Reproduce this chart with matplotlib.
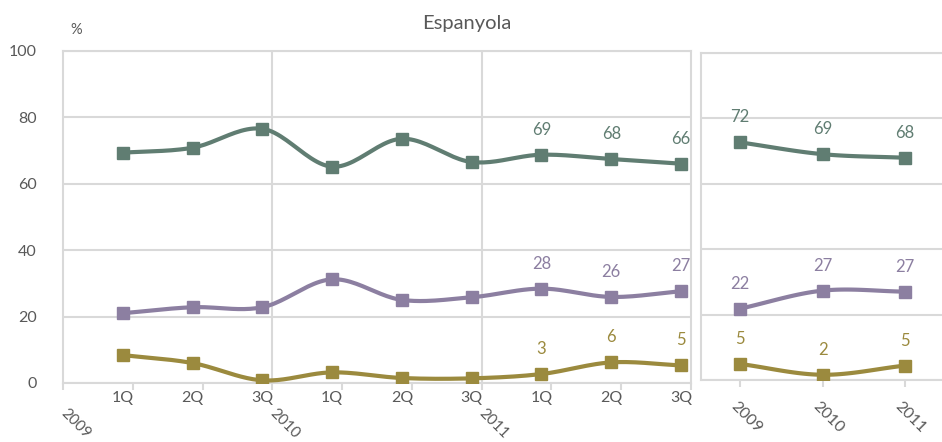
import numpy as np
import matplotlib
matplotlib.use("Agg")
import matplotlib.pyplot as plt
import matplotlib.transforms as mtransforms

plt.rcParams['font.family'] = ['Lato', 'DejaVu Sans']

# quarterly data 2009-2011
quarters = ['1Q', '2Q', '3Q', '1Q', '2Q', '3Q', '1Q', '2Q', '3Q']
years_q = ['2009', '2010', '2011']
green_q = [69.3, 70.8, 76.5, 65.1, 73.5, 66.5, 68.7, 67.4, 66.0]
purple_q = [21.0, 22.8, 22.8, 31.2, 25.0, 25.8, 28.4, 25.9, 27.6]
olive_q = [8.4, 6.0, 0.8, 3.2, 1.5, 1.4, 2.7, 6.2, 5.3]
# labels shown only on the last year
green_q_lab = [None] * 6 + ['69', '68', '66']
purple_q_lab = [None] * 6 + ['28', '26', '27']
olive_q_lab = [None] * 6 + ['3', '6', '5']

# yearly data
years = ['2009', '2010', '2011']
green_y = [72.6, 69.0, 67.9]
purple_y = [21.8, 27.3, 27.0]
olive_y = [4.9, 1.6, 4.4]
green_y_lab = ['72', '69', '68']
purple_y_lab = ['22', '27', '27']
olive_y_lab = ['5', '2', '5']

GREEN = '#607d72'
PURPLE = '#8c7fa1'
OLIVE = '#9b8a3e'
GRID = '#d9d9d9'
TXT = '#595959'


def smooth(x, y, n=24):
    # catmull-rom curve through the points (like excel smoothed lines)
    x = np.asarray(x, float)
    y = np.asarray(y, float)
    px = np.concatenate([[2 * x[0] - x[1]], x, [2 * x[-1] - x[-2]]])
    py = np.concatenate([[2 * y[0] - y[1]], y, [2 * y[-1] - y[-2]]])
    xs, ys = [], []
    t = np.linspace(0, 1, n)
    for i in range(1, len(px) - 2):
        for p, out in ((px, xs), (py, ys)):
            p0, p1, p2, p3 = p[i - 1], p[i], p[i + 1], p[i + 2]
            out.extend(0.5 * ((2 * p1) + (-p0 + p2) * t
                              + (2 * p0 - 5 * p1 + 4 * p2 - p3) * t ** 2
                              + (-p0 + 3 * p1 - 3 * p2 + p3) * t ** 3))
    return xs, ys


def draw(ax, vals, labs, color):
    x = np.arange(len(vals))
    sx, sy = smooth(x, vals)
    ax.plot(sx, sy, color=color, lw=3, solid_capstyle='round', zorder=3)
    ax.plot(x, vals, 's', color=color, ms=8.5, zorder=4)
    for xi, v, l in zip(x, vals, labs):
        if l is None:
            continue
        ax.annotate(l, (xi, v), xytext=(0, 18), textcoords='offset points',
                    ha='center', va='center', color=color, fontsize=12,
                    annotation_clip=False, clip_on=True)


W, H = 942, 442
fig = plt.figure(figsize=(W / 100, H / 100), dpi=100)

ax1 = fig.add_axes([63 / W, 1 - 383 / H, (691 - 63) / W, (383 - 50.7) / H])
ax2 = fig.add_axes([701 / W, 1 - 380 / H, (W - 701) / W, (380 - 52.7) / H])

for ax in (ax1, ax2):
    ax.set_ylim(0, 100)
    ax.set_yticks(np.arange(0, 101, 20))
    ax.yaxis.grid(True, color=GRID, lw=1.5)
    ax.set_axisbelow(True)
    for s in ax.spines.values():
        s.set_color(GRID)
        s.set_linewidth(1.5)
    ax.tick_params(axis='y', length=0, labelsize=11.5, labelcolor=TXT, pad=19)
    ax.tick_params(axis='x', which='major', length=5, color=GRID, width=1.5)
    ax.tick_params(axis='x', which='minor', length=0, labelsize=11.5,
                   labelcolor=TXT, pad=6)

# left panel
off = 60 / 70
ax1.set_xlim(-off, len(quarters) - off)
bounds = np.arange(len(quarters) + 1) - off
ax1.set_xticks(bounds)
ax1.set_xticklabels([''] * len(bounds))
ax1.set_xticks(np.arange(len(quarters)), minor=True)
ax1.set_xticklabels(quarters, minor=True)
for b in (bounds[3], bounds[6]):
    ax1.axvline(b, color=GRID, lw=1.5, zorder=0)
draw(ax1, green_q, green_q_lab, GREEN)
draw(ax1, purple_q, purple_q_lab, PURPLE)
draw(ax1, olive_q, olive_q_lab, OLIVE)
tr = mtransforms.blended_transform_factory(ax1.transData, ax1.transAxes)
for k, yr in enumerate(years_q):
    ax1.text(bounds[3 * k] + 0.07, -0.07, yr, transform=tr, rotation=-45,
             rotation_mode='anchor', ha='left', va='top', fontsize=11,
             color=TXT, clip_on=False)

# right panel
ax2.set_xlim(-39 / 82, 201 / 82)
ax2.set_xticks(np.arange(len(years)))
ax2.set_xticklabels([''] * len(years))
ax2.spines['right'].set_visible(False)
ax2.set_yticklabels([])
draw(ax2, green_y, green_y_lab, GREEN)
draw(ax2, purple_y, purple_y_lab, PURPLE)
draw(ax2, olive_y, olive_y_lab, OLIVE)
tr2 = mtransforms.blended_transform_factory(ax2.transData, ax2.transAxes)
for k, yr in enumerate(years):
    ax2.text(k - 0.03, -0.06, yr, transform=tr2, rotation=-45,
             rotation_mode='anchor', ha='left', va='top', fontsize=11.5,
             color=TXT, clip_on=False)

fig.text(467 / W, 1 - 23 / H, 'Espanyola', ha='center', va='center',
         fontsize=14.5, color=TXT)
fig.text(76 / W, 1 - 30 / H, '%', ha='center', va='center',
         fontsize=10.5, color=TXT)

fig.savefig('out.png', dpi=100)
